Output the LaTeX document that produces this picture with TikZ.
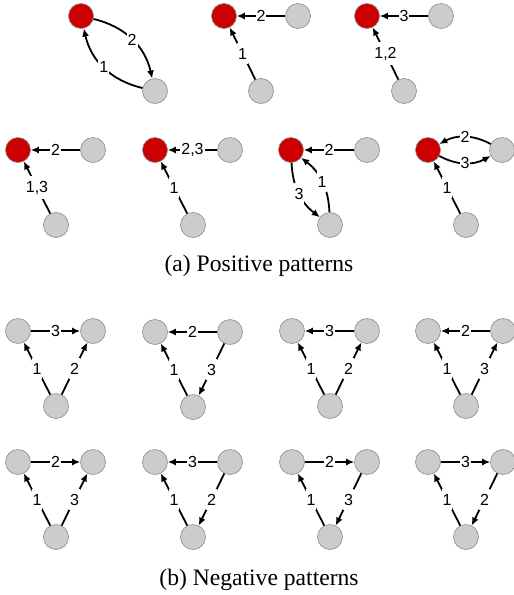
\documentclass[tikz,border=0pt]{standalone}
\usepackage{fontspec}
\setmainfont{Liberation Serif}
\newfontfamily\edgefont{Liberation Sans}
\usetikzlibrary{arrows.meta}
\definecolor{hotred}{RGB}{204,0,0}
\definecolor{coldgray}{RGB}{204,204,204}
\definecolor{rimgray}{RGB}{140,140,140}

\begin{document}
\begin{tikzpicture}[x=1pt, y=1pt,
  >={Latex[length=8pt,width=7pt]},
  hot/.style={circle, draw=rimgray, line width=0.6pt, fill=hotred, minimum size=25pt, inner sep=0pt},
  cold/.style={circle, draw=rimgray, line width=0.6pt, fill=coldgray, minimum size=25pt, inner sep=0pt},
  link/.style={->, line width=1.8pt},
  elab/.style={fill=white, inner xsep=1pt, inner ysep=5pt, font=\edgefont\fontsize{16}{16}\selectfont},
  caption/.style={font=\fontsize{23.6}{28}\selectfont}]
  \useasboundingbox (0,0) rectangle (514,-595);

  % Positive patterns, first row
  \node[hot] (P1) at (81,-16) {};
  \node[cold] (P1a) at (155,-91) {};

  \node[hot] (P2) at (224,-16) {};
  \node[cold] (P2a) at (298,-16) {};
  \node[cold] (P2b) at (261,-91) {};

  \node[hot] (P3) at (367,-16) {};
  \node[cold] (P3a) at (441,-16) {};
  \node[cold] (P3b) at (404,-91) {};

  % Positive patterns, second row
  \node[hot] (P4) at (18,-150) {};
  \node[cold] (P4a) at (93,-150) {};
  \node[cold] (P4b) at (56,-225) {};

  \node[hot] (P5) at (155,-150) {};
  \node[cold] (P5a) at (230,-150) {};
  \node[cold] (P5b) at (193,-225) {};

  \node[hot] (P6) at (291,-150) {};
  \node[cold] (P6a) at (367,-150) {};
  \node[cold] (P6b) at (330,-225) {};

  \node[hot] (P7) at (428,-150) {};
  \node[cold] (P7a) at (502,-150) {};
  \node[cold] (P7b) at (466,-225) {};

  % Arrows for the positive patterns
  \draw[link] (P1) to[bend left=32] node[elab] {2} (P1a);
  \draw[link] (P1a) to[bend left=32] node[elab] {1} (P1);

  \draw[link] (P2a) to node[elab] {2} (P2);
  \draw[link] (P2b) to node[elab] {1} (P2);

  \draw[link] (P3a) to node[elab] {3} (P3);
  \draw[link] (P3b) to node[elab] {1,2} (P3);

  \draw[link] (P4a) to node[elab] {2} (P4);
  \draw[link] (P4b) to node[elab] {1,3} (P4);

  \draw[link] (P5a) to node[elab] {2,3} (P5);
  \draw[link] (P5b) to node[elab] {1} (P5);

  \draw[link] (P6a) to node[elab] {2} (P6);
  \draw[link] (P6) to[bend right=25] node[elab] {3} (P6b);
  \draw[link] (P6b) to[bend right=25] node[elab] {1} (P6);

  \draw[link] (P7a) to[bend right=28] node[elab] {2} (P7);
  \draw[link] (P7) to[bend right=28] node[elab] {3} (P7a);
  \draw[link] (P7b) to node[elab] {1} (P7);

  \node[caption] (capA) at (259,-266) {(a) Positive patterns};

  % Negative patterns, first row
  \node[cold] (N1a) at (18,-331) {};
  \node[cold] (N1b) at (93,-331) {};
  \node[cold] (N1c) at (56,-406) {};

  \node[cold] (N2a) at (155,-332) {};
  \node[cold] (N2b) at (230,-332) {};
  \node[cold] (N2c) at (193,-407) {};

  \node[cold] (N3a) at (292,-331) {};
  \node[cold] (N3b) at (367,-331) {};
  \node[cold] (N3c) at (330,-406) {};

  \node[cold] (N4a) at (428,-331) {};
  \node[cold] (N4b) at (503,-331) {};
  \node[cold] (N4c) at (466,-406) {};

  % Negative patterns, second row
  \node[cold] (N5a) at (18,-462) {};
  \node[cold] (N5b) at (93,-462) {};
  \node[cold] (N5c) at (56,-537) {};

  \node[cold] (N6a) at (155,-462) {};
  \node[cold] (N6b) at (230,-462) {};
  \node[cold] (N6c) at (193,-537) {};

  \node[cold] (N7a) at (292,-462) {};
  \node[cold] (N7b) at (367,-462) {};
  \node[cold] (N7c) at (330,-537) {};

  \node[cold] (N8a) at (428,-462) {};
  \node[cold] (N8b) at (503,-462) {};
  \node[cold] (N8c) at (466,-537) {};

  % Arrows for the negative patterns
  \draw[link] (N1a) to node[elab] {3} (N1b);
  \draw[link] (N1c) to node[elab] {1} (N1a);
  \draw[link] (N1c) to node[elab] {2} (N1b);

  \draw[link] (N2b) to node[elab] {2} (N2a);
  \draw[link] (N2c) to node[elab] {1} (N2a);
  \draw[link] (N2b) to node[elab] {3} (N2c);

  \draw[link] (N3b) to node[elab] {3} (N3a);
  \draw[link] (N3c) to node[elab] {1} (N3a);
  \draw[link] (N3c) to node[elab] {2} (N3b);

  \draw[link] (N4b) to node[elab] {2} (N4a);
  \draw[link] (N4c) to node[elab] {1} (N4a);
  \draw[link] (N4c) to node[elab] {3} (N4b);

  \draw[link] (N5a) to node[elab] {2} (N5b);
  \draw[link] (N5c) to node[elab] {1} (N5a);
  \draw[link] (N5c) to node[elab] {3} (N5b);

  \draw[link] (N6b) to node[elab] {3} (N6a);
  \draw[link] (N6c) to node[elab] {1} (N6a);
  \draw[link] (N6b) to node[elab] {2} (N6c);

  \draw[link] (N7a) to node[elab] {2} (N7b);
  \draw[link] (N7c) to node[elab] {1} (N7a);
  \draw[link] (N7b) to node[elab] {3} (N7c);

  \draw[link] (N8a) to node[elab] {3} (N8b);
  \draw[link] (N8c) to node[elab] {1} (N8a);
  \draw[link] (N8b) to node[elab] {2} (N8c);

  \node[caption] (capB) at (259,-580) {(b) Negative patterns};
\end{tikzpicture}
\end{document}
